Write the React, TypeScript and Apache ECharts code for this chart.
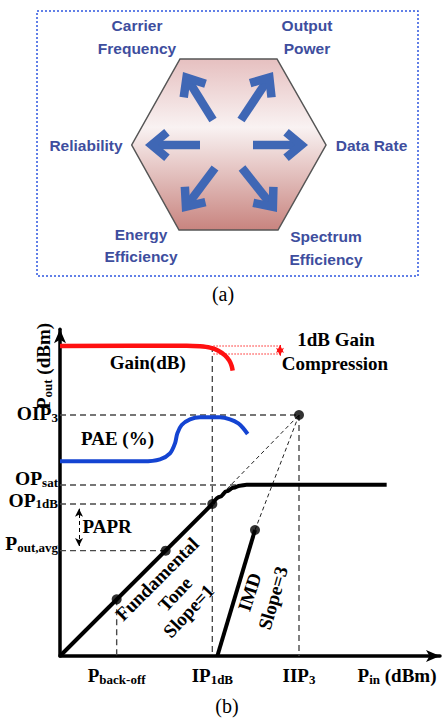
import React, { useEffect, useRef } from 'react';
import * as echarts from 'echarts';

// ---------- Part (b): data in axis units (Pin 0..114, Pout 0..98) ----------
const fundamentalLinear = [[0, 0], [45.7, 45.6]];
const fundamentalCompression = [[45.7, 45.6], [48, 47.8], [50, 49.4], [52, 50.5], [54, 51.1], [56, 51.35], [58, 51.4], [98, 51.4]];
const gainCurve = [[0, 93], [38, 93.1], [42, 92.9], [45, 92.5], [47.5, 91.6], [49.5, 90.2], [50.8, 88.6], [51.5, 87], [51.8, 85.6]];
const paeCurve = [[0, 58.4], [25, 58.4], [30, 59.0], [33, 60.8], [34.5, 63.8], [35.2, 66.8], [36.5, 69.3], [39, 71.0], [42, 71.6], [48, 71.6], [51, 71.0], [53.5, 69.8], [55, 68.3], [56.3, 66.6]];
const imdLine = [[47.2, 0], [58.5, 37.8]];
const keyPoints = [[17, 17], [31.7, 31.6], [45.7, 45.6], [58.5, 37.8], [71.7, 72.3]];
const guideSegments = [
  [[0, 72.3], [71.7, 72.3]],
  [[71.7, 72.3], [71.7, 0]],
  [[45.7, 93], [45.7, 0]],
  [[0, 51.3], [57, 51.3]],
  [[0, 45.6], [45.7, 45.6]],
  [[0, 31.6], [31.7, 31.6]],
  [[17, 17], [17, 0]],
];
const extrapolations = [
  [[45.7, 45.6], [71.7, 72.3]],
  [[58.5, 37.8], [71.7, 72.3]],
];
const gainRefLines = [
  [[46, 93], [66, 93]],
  [[46, 90.6], [66, 90.6]],
];
const gainArrow = [[66, 90.1], [66, 93.3]];
const paprArrow = [[5.7, 33.0], [5.7, 44.2]];
const yTickValues = [72.3, 51.3, 45.6, 31.6];
const yTickLabels = ['{b|OIP}{s|3}', '{b|OP}{s|sat}', '{b|OP}{s|1dB}', '{b|P}{s|out,avg}'];
const xTickValues = [17, 45.7, 71.7];
const xTickLabels = ['{b|P}{s|back-off}', '{b|IP}{s|1dB}', '{b|IIP}{s|3}'];

// ---------- Part (a): labels ----------
const aLabels = [
  { lines: ['Carrier', 'Frequency'], x: 137, y: [25.5, 48.5] },
  { lines: ['Output', 'Power'], x: 307, y: [25.5, 48.5] },
  { lines: ['Reliability'], x: 86, y: [145.7] },
  { lines: ['Data Rate'], x: 371.5, y: [145.7] },
  { lines: ['Energy', 'Efficiency'], x: 141, y: [234.5, 256.5] },
  { lines: ['Spectrum', 'Efficiency'], x: 326, y: [236, 259] },
];

const SERIF = 'Liberation Serif';
const SANS = 'Liberation Sans';
const ARROW_COLOR = '#3f67b5';
const TEXT_BLUE = '#3e4e9e';

function arrowGraphics(sx: number, sy: number, tx: number, ty: number) {
  const len = Math.hypot(tx - sx, ty - sy);
  const dx = (tx - sx) / len, dy = (ty - sy) / len;
  const nx = -dy, ny = dx;
  const w = 8.5;
  const th = (40 * Math.PI) / 180;
  const ext = w / 2 / Math.sin(th);
  const px = tx - dx * ext, py = ty - dy * ext;
  const arm = 20;
  const c = Math.cos(th), s = Math.sin(th);
  const ax = px - arm * (c * dx + s * nx), ay = py - arm * (c * dy + s * ny);
  const bx = px - arm * (c * dx - s * nx), by = py - arm * (c * dy - s * ny);
  return [
    { type: 'line', shape: { x1: sx, y1: sy, x2: px, y2: py }, style: { stroke: ARROW_COLOR, lineWidth: w, lineCap: 'butt' } },
    { type: 'polyline', shape: { points: [[ax, ay], [px, py], [bx, by]] }, style: { stroke: ARROW_COLOR, lineWidth: w, lineJoin: 'miter', lineCap: 'butt', fill: null } },
  ];
}

const arrowDefs = [
  [200, 145, 145, 145],
  [253, 145, 308, 145],
  [213, 120, 183, 72],
  [241, 120, 273, 72],
  [215, 168, 182, 212],
  [242, 168, 277, 212],
];

const subRichY = {
  b: { fontFamily: SERIF, fontWeight: 'bold', fontSize: 19.5, color: '#000', lineHeight: 20 },
  s: { fontFamily: SERIF, fontWeight: 'bold', fontSize: 13, color: '#000', lineHeight: 10, verticalAlign: 'bottom' },
};
const subRichX = {
  b: { fontFamily: SERIF, fontWeight: 'bold', fontSize: 19, color: '#000', lineHeight: 22 },
  s: { fontFamily: SERIF, fontWeight: 'bold', fontSize: 13, color: '#000', lineHeight: 11, verticalAlign: 'bottom' },
};

function findLabel(values: number[], labels: string[], v: number) {
  const i = values.findIndex((x) => Math.abs(x - v) < 1e-6);
  return i >= 0 ? labels[i] : '';
}

function annText(text: string, x: number, y: number, rotationDeg = 0, align = 'center') {
  return {
    type: 'text', x, y, rotation: (rotationDeg * Math.PI) / 180, z: 10,
    style: { text, fontFamily: SERIF, fontWeight: 'bold', fontSize: 19, fill: '#000', align, verticalAlign: 'middle' },
  };
}

export default function App() {
  const ref = useRef<HTMLDivElement>(null);
  useEffect(() => {
    if (!ref.current) return;
    const chart = echarts.init(ref.current, null, { renderer: 'svg' });

    const lineSeries = (data: number[][], color: string, width: number, type: any = 'solid', smooth: any = false, extra: any = {}) => ({
      type: 'line', data, symbol: 'none', smooth, silent: true,
      lineStyle: { color, width, type, cap: 'butt' }, ...extra,
    });

    const series: any[] = [];
    guideSegments.forEach((g) => series.push(lineSeries(g, '#4a4a4a', 1.4, [6, 4])));
    extrapolations.forEach((g) => series.push(lineSeries(g, '#222', 1, [4, 3])));
    gainRefLines.forEach((g) => series.push(lineSeries(g, '#ff2020', 1.2, [1.5, 1.5])));
    series.push(lineSeries(fundamentalLinear, '#000', 4));
    series.push(lineSeries(fundamentalCompression, '#000', 4, 'solid', 0.4, { smoothMonotone: 'x' }));
    series.push(lineSeries(gainCurve, '#ff1010', 4.5, 'solid', 0.3));
    series.push(lineSeries(paeCurve, '#1444d2', 4, 'solid', 0.3));
    series.push(lineSeries(imdLine, '#000', 4));
    series.push({
      type: 'line', data: [], symbol: 'none',
      markLine: {
        silent: true, animation: false, label: { show: false },
        symbol: ['arrow', 'arrow'], symbolSize: [6, 8],
        data: [
          [{ coord: paprArrow[0], lineStyle: { color: '#000', width: 1, type: [4, 3] } }, { coord: paprArrow[1] }],
          [{ coord: gainArrow[0], lineStyle: { color: '#ff1010', width: 1, type: 'solid' } }, { coord: gainArrow[1] }],
        ],
      },
    });
    series.push({ type: 'scatter', data: keyPoints, symbol: 'circle', symbolSize: 10, itemStyle: { color: '#000' }, silent: true, z: 5 });

    chart.setOption({
      animation: false,
      backgroundColor: '#fff',
      grid: { left: 60, top: 329.33, width: 380, height: 326.67, outerBoundsMode: 'none' },
      xAxis: {
        type: 'value', min: 0, max: 114,
        splitLine: { show: false }, axisTick: { show: false },
        axisLine: { show: true, onZero: false, symbol: ['none', 'arrow'], symbolSize: [9, 14], lineStyle: { color: '#000', width: 3.5 } },
        axisLabel: { show: true, customValues: xTickValues, margin: 8, rich: subRichX, formatter: (v: number) => findLabel(xTickValues, xTickLabels, v) },
      },
      yAxis: {
        type: 'value', min: 0, max: 98,
        splitLine: { show: false }, axisTick: { show: false },
        axisLine: { show: true, onZero: false, symbol: ['none', 'arrow'], symbolSize: [9, 14], lineStyle: { color: '#000', width: 3.5 } },
        axisLabel: { show: false },
      },
      series,
    });

    const graphic: any[] = [];
    graphic.push({ type: 'rect', shape: { x: 37, y: 11, width: 381, height: 265 }, style: { fill: null, stroke: '#2f57e0', lineWidth: 1.5, lineDash: [2, 2] } });
    graphic.push({
      type: 'polygon',
      shape: { points: [[180, 59], [277, 59], [326, 145], [278, 230], [179, 230], [131.7, 145]] },
      style: {
        stroke: '#555', lineWidth: 1.5,
        fill: { type: 'linear', x: 0, y: 0, x2: 0, y2: 1, colorStops: [
          { offset: 0, color: '#e6c0c0' }, { offset: 0.4, color: '#f9f2f2' }, { offset: 1, color: '#c8847f' },
        ] },
      },
    });
    arrowDefs.forEach((a) => graphic.push(...arrowGraphics(a[0], a[1], a[2], a[3])));
    aLabels.forEach((l) => l.lines.forEach((t, i) => graphic.push({
      type: 'text', x: l.x, y: l.y[i],
      style: { text: t, fontFamily: SANS, fontWeight: 'bold', fontSize: 15.5, fill: TEXT_BLUE, align: 'center', verticalAlign: 'middle' },
    })));
    graphic.push({ type: 'text', x: 223, y: 294, style: { text: '(a)', fontFamily: SERIF, fontSize: 20, fill: '#000', align: 'center', verticalAlign: 'middle' } });
    graphic.push({ type: 'text', x: 227, y: 706, style: { text: '(b)', fontFamily: SERIF, fontSize: 20, fill: '#000', align: 'center', verticalAlign: 'middle' } });
    graphic.push({ type: 'text', x: 43, y: 366, rotation: Math.PI / 2, style: { text: '{b|P}{s|out}{b| (dBm)}', rich: subRichX, align: 'center', verticalAlign: 'middle' } });
    graphic.push({ type: 'text', x: 397, y: 675, style: { text: '{b|P}{s|in}{b| (dBm)}', rich: subRichX, align: 'center', verticalAlign: 'middle' } });
    graphic.push(annText('Gain(dB)', 147.7, 362));
    graphic.push(annText('1dB Gain', 336, 339));
    graphic.push(annText('Compression', 335, 363));
    graphic.push(annText('PAE (%)', 117.5, 438));
    graphic.push(annText('PAPR', 82.5, 526, 0, 'left'));
    graphic.push(annText('Fundamental', 157, 579, 45));
    graphic.push(annText('Tone', 175, 594, 47));
    graphic.push(annText('Slope=1', 188.5, 611, 47));
    graphic.push(annText('IMD', 249.5, 592, 72));
    graphic.push(annText('Slope=3', 273, 598, 74));

    // y tick labels placed through the y axis scale, lifted slightly as in the original
    const lift = [1, 6, 3.5, 7];
    const axisPx = chart.convertToPixel({ xAxisIndex: 0 }, 0) as number;
    yTickValues.forEach((v, i) => {
      const py = chart.convertToPixel({ yAxisIndex: 0 }, v) as number;
      graphic.push({
        type: 'text', x: axisPx - 2, y: py - lift[i],
        style: { text: yTickLabels[i], rich: subRichY, align: 'right', verticalAlign: 'middle' },
      });
    });

    chart.setOption({ graphic });
    return () => chart.dispose();
  }, []);
  return <div ref={ref} style={{ position: 'absolute', left: 0, top: 0, width: 447, height: 718 }} />;
}
